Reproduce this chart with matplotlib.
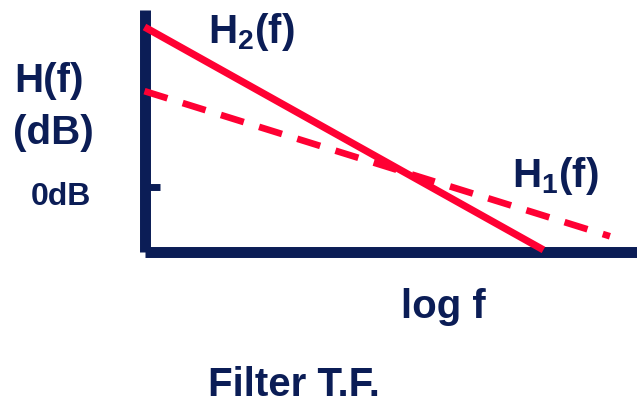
import matplotlib
matplotlib.use("Agg")
import matplotlib.pyplot as plt

# log f (arbitrary units) and gain in dB for the two filter responses
h2_logf = [0.0, 8.1]
h2_db = [10.0, -3.9]
h1_logf = [0.0, 9.45]
h1_db = [6.0, -3.05]
zero_db_tick = [0]

navy = "#0b1d56"
red = "#ff0033"

plt.rcParams["font.family"] = ["Liberation Sans", "DejaVu Sans"]
plt.rcParams["font.weight"] = "bold"
plt.rcParams["mathtext.fontset"] = "custom"
plt.rcParams["mathtext.rm"] = "Liberation Sans:bold"
plt.rcParams["mathtext.it"] = "Liberation Sans:bold"
plt.rcParams["mathtext.bf"] = "Liberation Sans:bold"

W, H = 637, 401
fig = plt.figure(figsize=(W / 100, H / 100), dpi=100)
ax = fig.add_axes([144.5 / W, (H - 251.5) / H, (W - 144.5) / W, (251.5 - 10) / H])

ax.plot(h2_logf, h2_db, color=red, lw=5.2, solid_capstyle="butt", zorder=3, clip_on=False)
ax.plot(h1_logf, h1_db, color=red, lw=4.8, dashes=(3.6, 2.4), dash_capstyle="butt",
        zorder=3, clip_on=False)

ax.set_xlim(0, 10)
ax.set_ylim(-4, 11.06)
for s in ["top", "right"]:
    ax.spines[s].set_visible(False)
for s in ["left", "bottom"]:
    ax.spines[s].set_color(navy)
    ax.spines[s].set_linewidth(7.9)
    ax.spines[s].set_capstyle("butt")
ax.set_xticks([])
ax.set_yticks(zero_db_tick)
ax.set_yticklabels([])
ax.tick_params(axis="y", direction="in", length=11, width=5, color=navy)
ax.patch.set_alpha(0)


def put(x, y, s, size=29, ha="left"):
    fig.text(x / W, 1 - y / H, s, fontsize=size, color=navy, fontweight="bold",
             ha=ha, va="baseline")


put(14, 92, "H(f)")
put(13, 144, "(dB)")
put(31, 205, "0dB", size=23)
put(208, 43, "H$_2$(f)")
put(512, 187, "H$_1$(f)")
put(401, 318, "log f")
put(208, 396, "Filter T.F.")

fig.savefig("out.png", dpi=100)
